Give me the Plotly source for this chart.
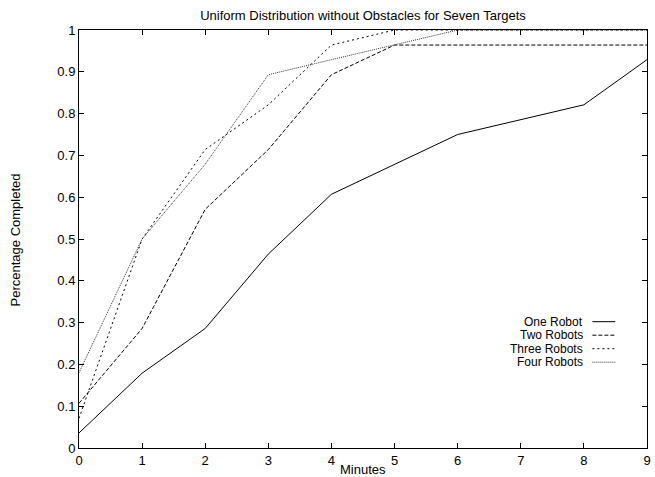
import plotly.graph_objects as go

# ---- data ----
series_names = ["One Robot", "Two Robots", "Three Robots", "Four Robots"]

x_one = [0, 1, 2, 3, 4, 6, 8, 9]
y_one = [0.036, 0.179, 0.286, 0.464, 0.607, 0.750, 0.821, 0.929]

x_two = [0, 1, 2, 3, 4, 5, 6, 7, 8, 9]
y_two = [0.107, 0.286, 0.571, 0.714, 0.893, 0.964, 0.964, 0.964, 0.964, 0.964]

x_three = [0, 1, 2, 3, 4, 5, 6, 7, 8, 9]
y_three = [0.071, 0.500, 0.714, 0.821, 0.964, 1.0, 1.0, 1.0, 1.0, 1.0]

x_four = [0, 1, 2, 3, 4, 5, 6, 7, 8, 9]
y_four = [0.180, 0.500, 0.679, 0.893, 0.929, 0.964, 1.0, 1.0, 1.0, 1.0]

x_ticks = [0, 1, 2, 3, 4, 5, 6, 7, 8, 9]
y_ticks = [0, 0.1, 0.2, 0.3, 0.4, 0.5, 0.6, 0.7, 0.8, 0.9, 1]
y_tick_text = ["0", "0.1", "0.2", "0.3", "0.4", "0.5", "0.6", "0.7", "0.8", "0.9", "1"]

title_text = "Uniform Distribution without Obstacles for Seven Targets"
x_title = "Minutes"
y_title = "Percentage Completed"

# ---- styles ----
dashes = ["solid", "4px,2px", "2px,3px", "1px,1px"]
colors = ["#000000", "#000000", "#000000", "#333333"]
FONT = "Liberation Sans, Arial, Helvetica, sans-serif"
FS = 13
LFS = 12

W, H = 655, 477
ML, MR, MT, MB = 79, 4, 30, 29
PW = W - ML - MR
PH = H - MT - MB

fig = go.Figure()
xs = [x_one, x_two, x_three, x_four]
ys = [y_one, y_two, y_three, y_four]
for name, xv, yv, d, c in zip(series_names, xs, ys, dashes, colors):
    fig.add_trace(go.Scatter(x=xv, y=yv, mode="lines", name=name,
                             line=dict(color=c, width=1, dash=d),
                             showlegend=False))

# custom gnuplot-style legend (text right, sample on the right)
def px_to_paper_x(px):
    return (px - ML) / PW

def px_to_paper_y(py):
    return (H - MB - py) / PH

legend_rows = [321.7, 335.2, 348.7, 362.2]
annotations = []
shapes = []
for name, d, c, ry in zip(series_names, dashes, colors, legend_rows):
    annotations.append(dict(text=name, xref="paper", yref="paper",
                            x=px_to_paper_x(588), y=px_to_paper_y(ry),
                            xanchor="right", yanchor="middle", showarrow=False,
                            borderpad=0,
                            font=dict(size=LFS, color="black", family=FONT)))
    shapes.append(dict(type="line", xref="paper", yref="paper",
                       x0=px_to_paper_x(596), x1=px_to_paper_x(619),
                       y0=px_to_paper_y(ry), y1=px_to_paper_y(ry),
                       line=dict(color=c, width=1, dash=d)))

annotations.append(dict(text=y_title, xref="paper", yref="paper",
                        x=px_to_paper_x(15), y=px_to_paper_y(240),
                        xanchor="center", yanchor="middle", textangle=-90,
                        showarrow=False,
                        font=dict(size=FS, color="black", family=FONT)))
annotations.append(dict(text=x_title, xref="paper", yref="paper",
                        x=px_to_paper_x(365), y=px_to_paper_y(469),
                        xanchor="center", yanchor="middle",
                        showarrow=False,
                        font=dict(size=FS, color="black", family=FONT)))

axis_common = dict(showline=True, linecolor="black", linewidth=1, mirror="ticks",
                   ticks="inside", ticklen=5, tickcolor="black", tickwidth=1,
                   showgrid=False, zeroline=False,
                   tickfont=dict(size=FS, color="black", family=FONT))

fig.update_layout(
    width=W, height=H,
    margin=dict(l=ML, r=MR, t=MT, b=MB, pad=0),
    paper_bgcolor="white", plot_bgcolor="white",
    font=dict(family=FONT, size=FS, color="black"),
    title=dict(text=title_text, x=0.5, xref="paper", xanchor="center",
               y=1 - 15 / H, yanchor="middle", yref="container",
               font=dict(size=FS, color="black", family=FONT)),
    xaxis=dict(range=[0, 9], tickmode="array", tickvals=x_ticks,
               ticktext=[str(v) for v in x_ticks], **axis_common),
    yaxis=dict(range=[0, 1], tickmode="array", tickvals=y_ticks,
               ticktext=y_tick_text, **axis_common),
    annotations=annotations,
    shapes=shapes,
)

fig.write_html("out.html")
